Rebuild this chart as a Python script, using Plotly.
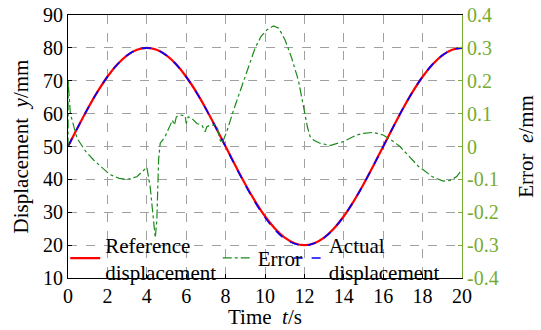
import plotly.graph_objects as go

# Time axis (s) and displacement (mm)
t_disp = [0, 0.5, 1, 1.5, 2, 2.5, 3, 3.5, 4, 4.5, 5, 5.5, 6, 6.5, 7, 7.5, 8, 8.5, 9, 9.5, 10,
          10.5, 11, 11.5, 12, 12.5, 13, 13.5, 14, 14.5, 15, 15.5, 16, 16.5, 17, 17.5, 18, 18.5,
          19, 19.5, 20]
ref_disp = [50, 55.85, 61.48, 66.67, 71.21, 74.94, 77.72, 79.42, 80, 79.42, 77.72, 74.94, 71.21,
            66.67, 61.48, 55.85, 50, 44.15, 38.52, 33.33, 28.79, 25.06, 22.28, 20.58, 20, 20.58,
            22.28, 25.06, 28.79, 33.33, 38.52, 44.15, 50, 55.85, 61.48, 66.67, 71.21, 74.94,
            77.72, 79.42, 80]
act_disp = [50, 55.84, 61.5, 66.7, 71.23, 74.95, 77.73, 79.43, 80, 79.43, 77.7, 74.9, 71.15,
            66.6, 61.42, 55.8, 49.98, 44.0, 38.3, 33.05, 28.45, 24.7, 21.95, 20.4, 19.9, 20.55,
            22.27, 25.05, 28.77, 33.3, 38.48, 44.11, 49.97, 55.85, 61.5, 66.7, 71.25, 74.98,
            77.75, 79.45, 80]

# Tracking error (mm)
t_err = [0, 0.01, 0.04, 0.12, 0.46, 0.9, 1.3, 1.8, 2.15, 2.6, 3.0, 3.5, 4.0, 4.17, 4.3, 4.43,
         4.51, 4.6, 4.68, 4.93, 5.19, 5.3, 5.4, 5.5, 5.69, 5.95, 6.0, 6.1, 6.28, 6.54, 6.8,
         6.96, 7.05, 7.22, 7.47, 7.59, 7.72, 7.81, 7.89, 8.06, 8.4, 8.74, 8.9, 9.2, 9.5, 9.8,
         10.1, 10.43, 10.7, 11.02, 11.35, 11.7, 11.9, 12.03, 12.15, 12.29, 12.5, 12.79, 13.3,
         13.98, 14.65, 15.0, 15.5, 16.0, 16.4, 16.85, 17.3, 17.78, 18.03, 18.5, 19.05, 19.4,
         19.72, 20.0]
err = [0.0, 0.2, 0.17, 0.1, 0.025, -0.015, -0.041, -0.068, -0.086, -0.097, -0.1, -0.092,
       -0.063, -0.122, -0.2, -0.278, -0.223, -0.04, 0.01, 0.03, 0.065, 0.08, 0.065, 0.09,
       0.096, 0.093, 0.07, 0.09, 0.086, 0.07, 0.065, 0.045, 0.06, 0.065, 0.065, 0.055, 0.02,
       0.01, 0.02, 0.045, 0.11, 0.17, 0.2, 0.25, 0.3, 0.335, 0.355, 0.367, 0.36, 0.324,
       0.27, 0.2, 0.14, 0.096, 0.06, 0.03, 0.018, 0.01, 0.003, 0.015, 0.035, 0.04, 0.043,
       0.035, 0.02, 0.0, -0.03, -0.06, -0.071, -0.092, -0.105, -0.103, -0.092, -0.071]

x_ticks = [0, 2, 4, 6, 8, 10, 12, 14, 16, 18, 20]
y_ticks = [10, 20, 30, 40, 50, 60, 70, 80, 90]
e_ticks = [-0.4, -0.3, -0.2, -0.1, 0, 0.1, 0.2, 0.3, 0.4]
e_tick_text = ["-0.4", "-0.3", "-0.2", "-0.1", "0", "0.1", "0.2", "0.3", "0.4"]
x_title = "Time  <i>t</i>/s"

FONT = "Liberation Serif"
GREEN_AX = "#77AC30"

fig = go.Figure()
fig.add_trace(go.Scatter(x=t_disp, y=ref_disp, mode="lines", name="Reference<br>displacement",
                         line=dict(color="red", width=2.2, shape="spline"), legend="legend"))
fig.add_trace(go.Scatter(x=t_disp, y=act_disp, mode="lines", name="Actual<br>displacement",
                         line=dict(color="blue", width=1.6, dash="dash", shape="spline"),
                         legend="legend3"))
fig.add_trace(go.Scatter(x=t_err, y=err, mode="lines", name="Error", yaxis="y2",
                         line=dict(color="#1a8a1a", width=1.2, dash="dashdot"),
                         legend="legend2"))

leg_common = dict(orientation="h", yanchor="middle", y=0.075, xanchor="left",
                  bgcolor="rgba(0,0,0,0)", font=dict(family=FONT, size=21, color="black"),
                  borderwidth=0)
fig.update_layout(
    width=541, height=330,
    margin=dict(l=68, r=79, t=15, b=52, autoexpand=False),
    paper_bgcolor="white", plot_bgcolor="white",
    font=dict(family=FONT, size=20, color="black"),
    showlegend=True,
    legend=dict(x=-0.007, **leg_common),
    legend2=dict(x=0.38, **leg_common),
    legend3=dict(x=0.56, **leg_common),
    xaxis=dict(range=[0, 20], tickvals=x_ticks, showgrid=True, gridcolor="#a0a0a0",
               griddash="dash", gridwidth=1, showline=True, linecolor="black", linewidth=1,
               mirror=True, ticks="inside", ticklen=4, tickcolor="black", zeroline=False,
               automargin=False, tickfont=dict(family=FONT, size=20)),
    yaxis=dict(range=[10, 90], tickvals=y_ticks, showgrid=True, gridcolor="#a0a0a0",
               griddash="dash", gridwidth=1, showline=True, linecolor="black", linewidth=1,
               ticks="inside", ticklen=4, tickcolor="black", zeroline=False,
               automargin=False,
               title=dict(text="Displacement  <i>y</i>/mm", font=dict(family=FONT, size=21),
                          standoff=8),
               tickfont=dict(family=FONT, size=20)),
    yaxis2=dict(range=[-0.4, 0.4], tickvals=e_ticks, ticktext=e_tick_text, overlaying="y",
                side="right", showgrid=False, showline=True, linecolor=GREEN_AX, linewidth=1,
                ticks="inside", ticklen=4, tickcolor=GREEN_AX, zeroline=False,
                automargin=False,
                tickfont=dict(family=FONT, size=20, color=GREEN_AX),
                title=dict(text="Error  <i>e</i>/mm",
                           font=dict(family=FONT, size=21, color="black"), standoff=20)),
    annotations=[dict(text=x_title, xref="paper", yref="paper", x=0.5, y=-0.148,
                      xanchor="center", yanchor="middle", showarrow=False,
                      font=dict(family=FONT, size=21, color="black"))],
)

fig.write_html("out.html")
